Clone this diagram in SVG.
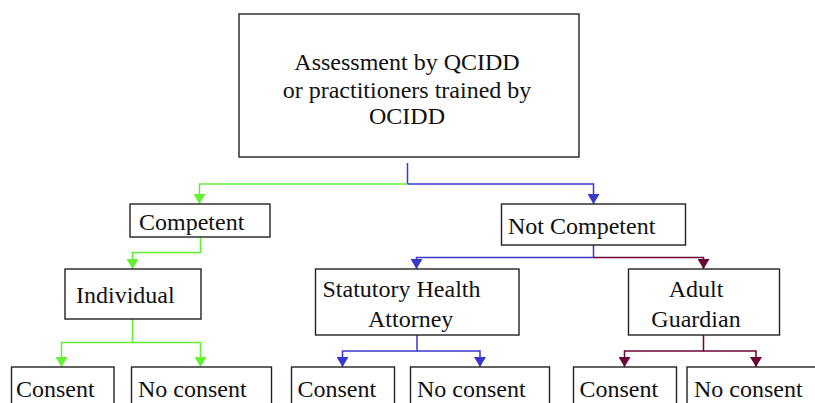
<svg xmlns="http://www.w3.org/2000/svg" width="815" height="403" viewBox="0 0 815 403">
<style>
.box{fill:#fff;stroke:#222;stroke-width:1.4}
.t{font-family:"Liberation Serif","Times New Roman",serif;font-size:24px;fill:#111}
.c{fill:none;stroke-width:1.5}
.g{stroke:#66F033}
.b{stroke:#3838CC}
.m{stroke:#6A0535}
</style>
<defs>
<marker id="ag" markerUnits="userSpaceOnUse" markerWidth="12" markerHeight="11" refX="6" refY="10" viewBox="0 0 12 11"><path d="M0,0 L12,0 L6,10 Z" fill="#66F033"/></marker>
<marker id="ab" markerUnits="userSpaceOnUse" markerWidth="12" markerHeight="11" refX="6" refY="10" viewBox="0 0 12 11"><path d="M0,0 L12,0 L6,10 Z" fill="#3838CC"/></marker>
<marker id="am" markerUnits="userSpaceOnUse" markerWidth="12" markerHeight="11" refX="6" refY="10" viewBox="0 0 12 11"><path d="M0,0 L12,0 L6,10 Z" fill="#6A0535"/></marker>
</defs>
<g id="connectors">
<path class="c b" d="M407.5,163 V184"/>
<path class="c g" d="M407.5,184 H199.5 V204" marker-end="url(#ag)"/>
<path class="c b" d="M407.5,184 H593.5 V204" marker-end="url(#ab)"/>
<path class="c g" d="M200.5,237 V252.5 H132.5 V269" marker-end="url(#ag)"/>
<path class="c g" d="M132.5,319 V342.5 H61.5 V367" marker-end="url(#ag)"/>
<path class="c g" d="M132.5,342.5 H200.5 V367" marker-end="url(#ag)"/>
<path class="c b" d="M593.5,245 V257.5 H416.5 V269" marker-end="url(#ab)"/>
<path class="c m" d="M593.5,257.5 H703.5 V269" marker-end="url(#am)"/>
<path class="c b" d="M417,335 V351 H342.5 V367" marker-end="url(#ab)"/>
<path class="c b" d="M417,351 H480 V367" marker-end="url(#ab)"/>
<path class="c m" d="M703.5,335 V351 H624.5 V367" marker-end="url(#am)"/>
<path class="c m" d="M703.5,351 H756 V367" marker-end="url(#am)"/>
</g>
<g id="assessment">
<rect class="box" x="239" y="14" width="340" height="143"/>
<text class="t" x="407" y="70" text-anchor="middle">Assessment by QCIDD</text>
<text class="t" x="407" y="98" text-anchor="middle">or practitioners trained by</text>
<text class="t" x="407" y="124" text-anchor="middle">OCIDD</text>
</g>
<g id="competent">
<rect class="box" x="130" y="204" width="140" height="33"/>
<text class="t" x="139" y="230">Competent</text>
</g>
<g id="not-competent">
<rect class="box" x="501.5" y="204" width="184" height="41"/>
<text class="t" x="508" y="234">Not Competent</text>
</g>
<g id="individual">
<rect class="box" x="65" y="269" width="136" height="50"/>
<text class="t" x="76" y="303">Individual</text>
</g>
<g id="statutory">
<rect class="box" x="315.5" y="269" width="203.5" height="66"/>
<text class="t" x="322.5" y="297">Statutory Health</text>
<text class="t" x="368" y="327">Attorney</text>
</g>
<g id="guardian">
<rect class="box" x="628.5" y="269" width="151" height="66"/>
<text class="t" x="696" y="297" text-anchor="middle">Adult</text>
<text class="t" x="696" y="327" text-anchor="middle">Guardian</text>
</g>
<g id="consent-1">
<rect class="box" x="11.5" y="367" width="102.5" height="50"/>
<text class="t" x="16" y="397">Consent</text>
</g>
<g id="noconsent-1">
<rect class="box" x="131.5" y="367" width="140" height="50"/>
<text class="t" x="138" y="397">No consent</text>
</g>
<g id="consent-2">
<rect class="box" x="291.5" y="367" width="103" height="50"/>
<text class="t" x="297.5" y="397">Consent</text>
</g>
<g id="noconsent-2">
<rect class="box" x="410.5" y="367" width="139" height="50"/>
<text class="t" x="417" y="397">No consent</text>
</g>
<g id="consent-3">
<rect class="box" x="573.5" y="367" width="103" height="50"/>
<text class="t" x="579.5" y="397">Consent</text>
</g>
<g id="noconsent-3">
<rect class="box" x="687" y="367" width="140" height="50"/>
<text class="t" x="694" y="397">No consent</text>
</g>
</svg>
